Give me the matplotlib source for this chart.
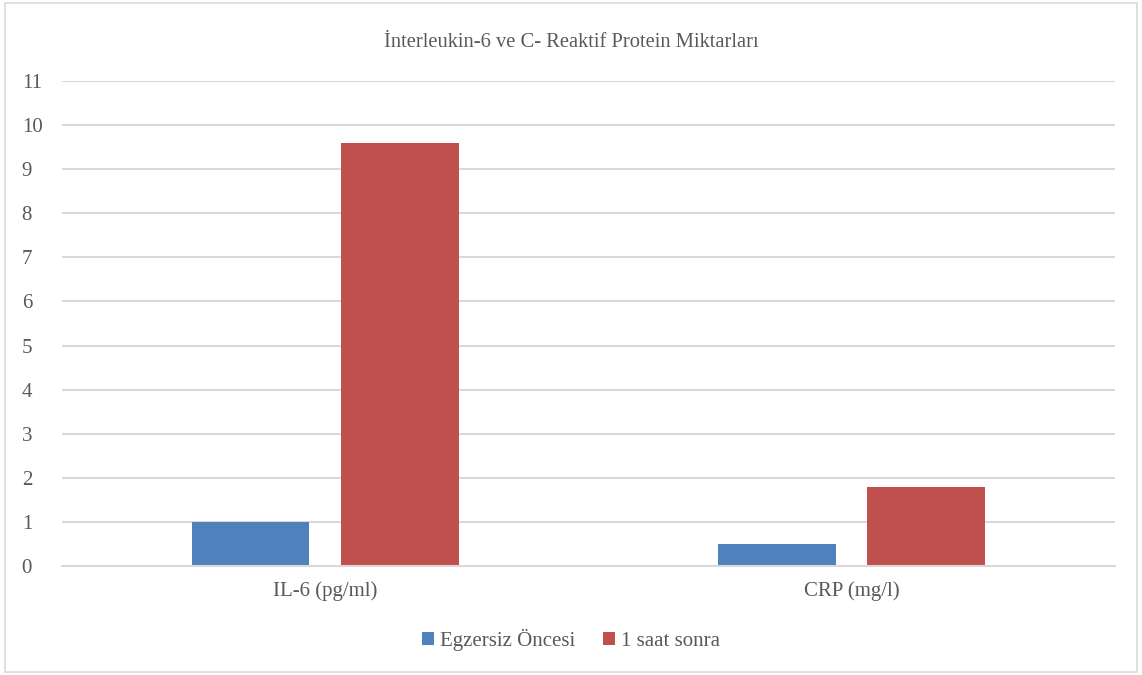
import matplotlib.pyplot as plt
import numpy as np
from matplotlib.patches import Rectangle

plt.rcParams['font.family'] = ['Liberation Serif', 'DejaVu Serif']

categories = ['IL-6 (pg/ml)', 'CRP (mg/l)']
series = ['Egzersiz Öncesi', '1 saat sonra']
before = [1.0, 0.5]
after = [9.6, 1.8]
colors = ['#4F81BD', '#C0504D']
txt = '#595959'
grid = '#D9D9D9'

fig = plt.figure(figsize=(11.42, 6.75), dpi=100)
ax = fig.add_axes([0.0543, 0.1615, 0.922, 0.7185])

x = np.arange(len(categories))
w = 0.224
off = 0.142
ax.bar(x - off, before, w, color=colors[0], label=series[0])
ax.bar(x + off, after, w, color=colors[1], label=series[1])

ax.set_xlim(-0.5, 1.5)
ax.set_ylim(0, 11)
ax.set_yticks(range(0, 12))
ax.set_xticks(x)
ax.set_xticklabels(categories)
ax.tick_params(length=0, labelsize=15, colors=txt)
ax.tick_params(axis='x', pad=11)
ax.tick_params(axis='y', pad=29)
for lbl in ax.get_yticklabels():
    lbl.set_horizontalalignment('left')
ax.yaxis.grid(True, color=grid, linewidth=1.5)
ax.set_axisbelow(True)
for s in ['top', 'right', 'left']:
    ax.spines[s].set_visible(False)
ax.spines['bottom'].set_color(grid)
ax.spines['bottom'].set_linewidth(1.5)

fig.text(0.5, 0.937, 'İnterleukin-6 ve C- Reaktif Protein Miktarları',
         ha='center', va='center', fontsize=14.8, color=txt)

leg = fig.legend(loc='center', bbox_to_anchor=(0.5, 0.052), ncol=2, frameon=False,
                 fontsize=15, handlelength=0.6, handleheight=0.6, handletextpad=0.3,
                 columnspacing=1.3)
for t in leg.get_texts():
    t.set_color(txt)

fig.patches.append(Rectangle((0.004, 0.004), 0.992, 0.991, transform=fig.transFigure,
                             fill=False, edgecolor='#D9D9D9', linewidth=1.2))

fig.savefig('out.png', dpi=100)
